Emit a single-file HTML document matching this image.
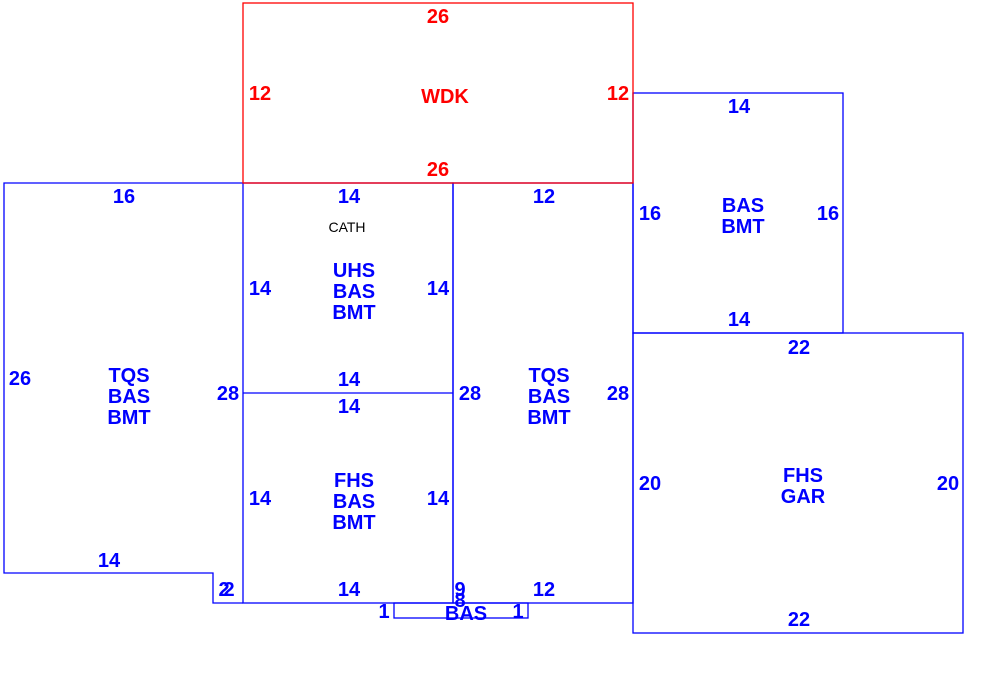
<!DOCTYPE html>
<html><head><style>body{margin:0;background:#fff}svg{display:block}text{font-family:"Liberation Sans",sans-serif;font-size:20px;text-anchor:middle;font-weight:bold}</style></head>
<body>
<svg width="990" height="677" xmlns="http://www.w3.org/2000/svg">
<g fill="none" stroke="#0000ff" stroke-width="1.3">
<polyline points="243,183 4,183 4,573 213,573 213,603 243,603"/>
<rect x="243" y="183" width="210" height="420"/>
<line x1="243" y1="393" x2="453" y2="393"/>
<rect x="453" y="183" width="180" height="420"/>
<rect x="633" y="93" width="210" height="240"/>
<rect x="633" y="333" width="330" height="300"/>
<rect x="394" y="603" width="134" height="15"/>
</g>
<rect x="243" y="3" width="390" height="180" fill="none" stroke="#ff0000" stroke-width="1.3"/>
<g fill="#ff0000">
<text x="438" y="23">26</text><text x="260" y="100">12</text><text x="618" y="100">12</text>
<text x="445" y="103">WDK</text><text x="438" y="176">26</text>
</g>
<g fill="#0000ff">
<text x="124" y="203">16</text><text x="20" y="385">26</text>
<text x="129" y="382">TQS</text><text x="129" y="403">BAS</text><text x="129" y="424">BMT</text>
<text x="228" y="400">28</text><text x="109" y="567">14</text><text x="224" y="596">2</text><text x="229" y="596">2</text>
<text x="349" y="203">14</text>
<text x="347" y="232" fill="#000" style="font-size:14px;font-weight:normal">CATH</text>
<text x="354" y="277">UHS</text><text x="354" y="298">BAS</text><text x="354" y="319">BMT</text>
<text x="260" y="295">14</text><text x="438" y="295">14</text>
<text x="349" y="386">14</text><text x="349" y="413">14</text>
<text x="354" y="487">FHS</text><text x="354" y="508">BAS</text><text x="354" y="529">BMT</text>
<text x="260" y="505">14</text><text x="438" y="505">14</text>
<text x="349" y="596">14</text>
<text x="544" y="203">12</text><text x="470" y="400">28</text><text x="618" y="400">28</text>
<text x="549" y="382">TQS</text><text x="549" y="403">BAS</text><text x="549" y="424">BMT</text>
<text x="460" y="596">9</text><text x="460" y="607">8</text><text x="544" y="596">12</text>
<text x="384" y="618">1</text><text x="466" y="620">BAS</text><text x="518" y="618">1</text>
<text x="739" y="113">14</text><text x="650" y="220">16</text><text x="828" y="220">16</text>
<text x="743" y="212">BAS</text><text x="743" y="233">BMT</text><text x="739" y="326">14</text>
<text x="799" y="354">22</text><text x="650" y="490">20</text><text x="948" y="490">20</text>
<text x="803" y="482">FHS</text><text x="803" y="503">GAR</text><text x="799" y="626">22</text>
</g>
</svg>
</body></html>
